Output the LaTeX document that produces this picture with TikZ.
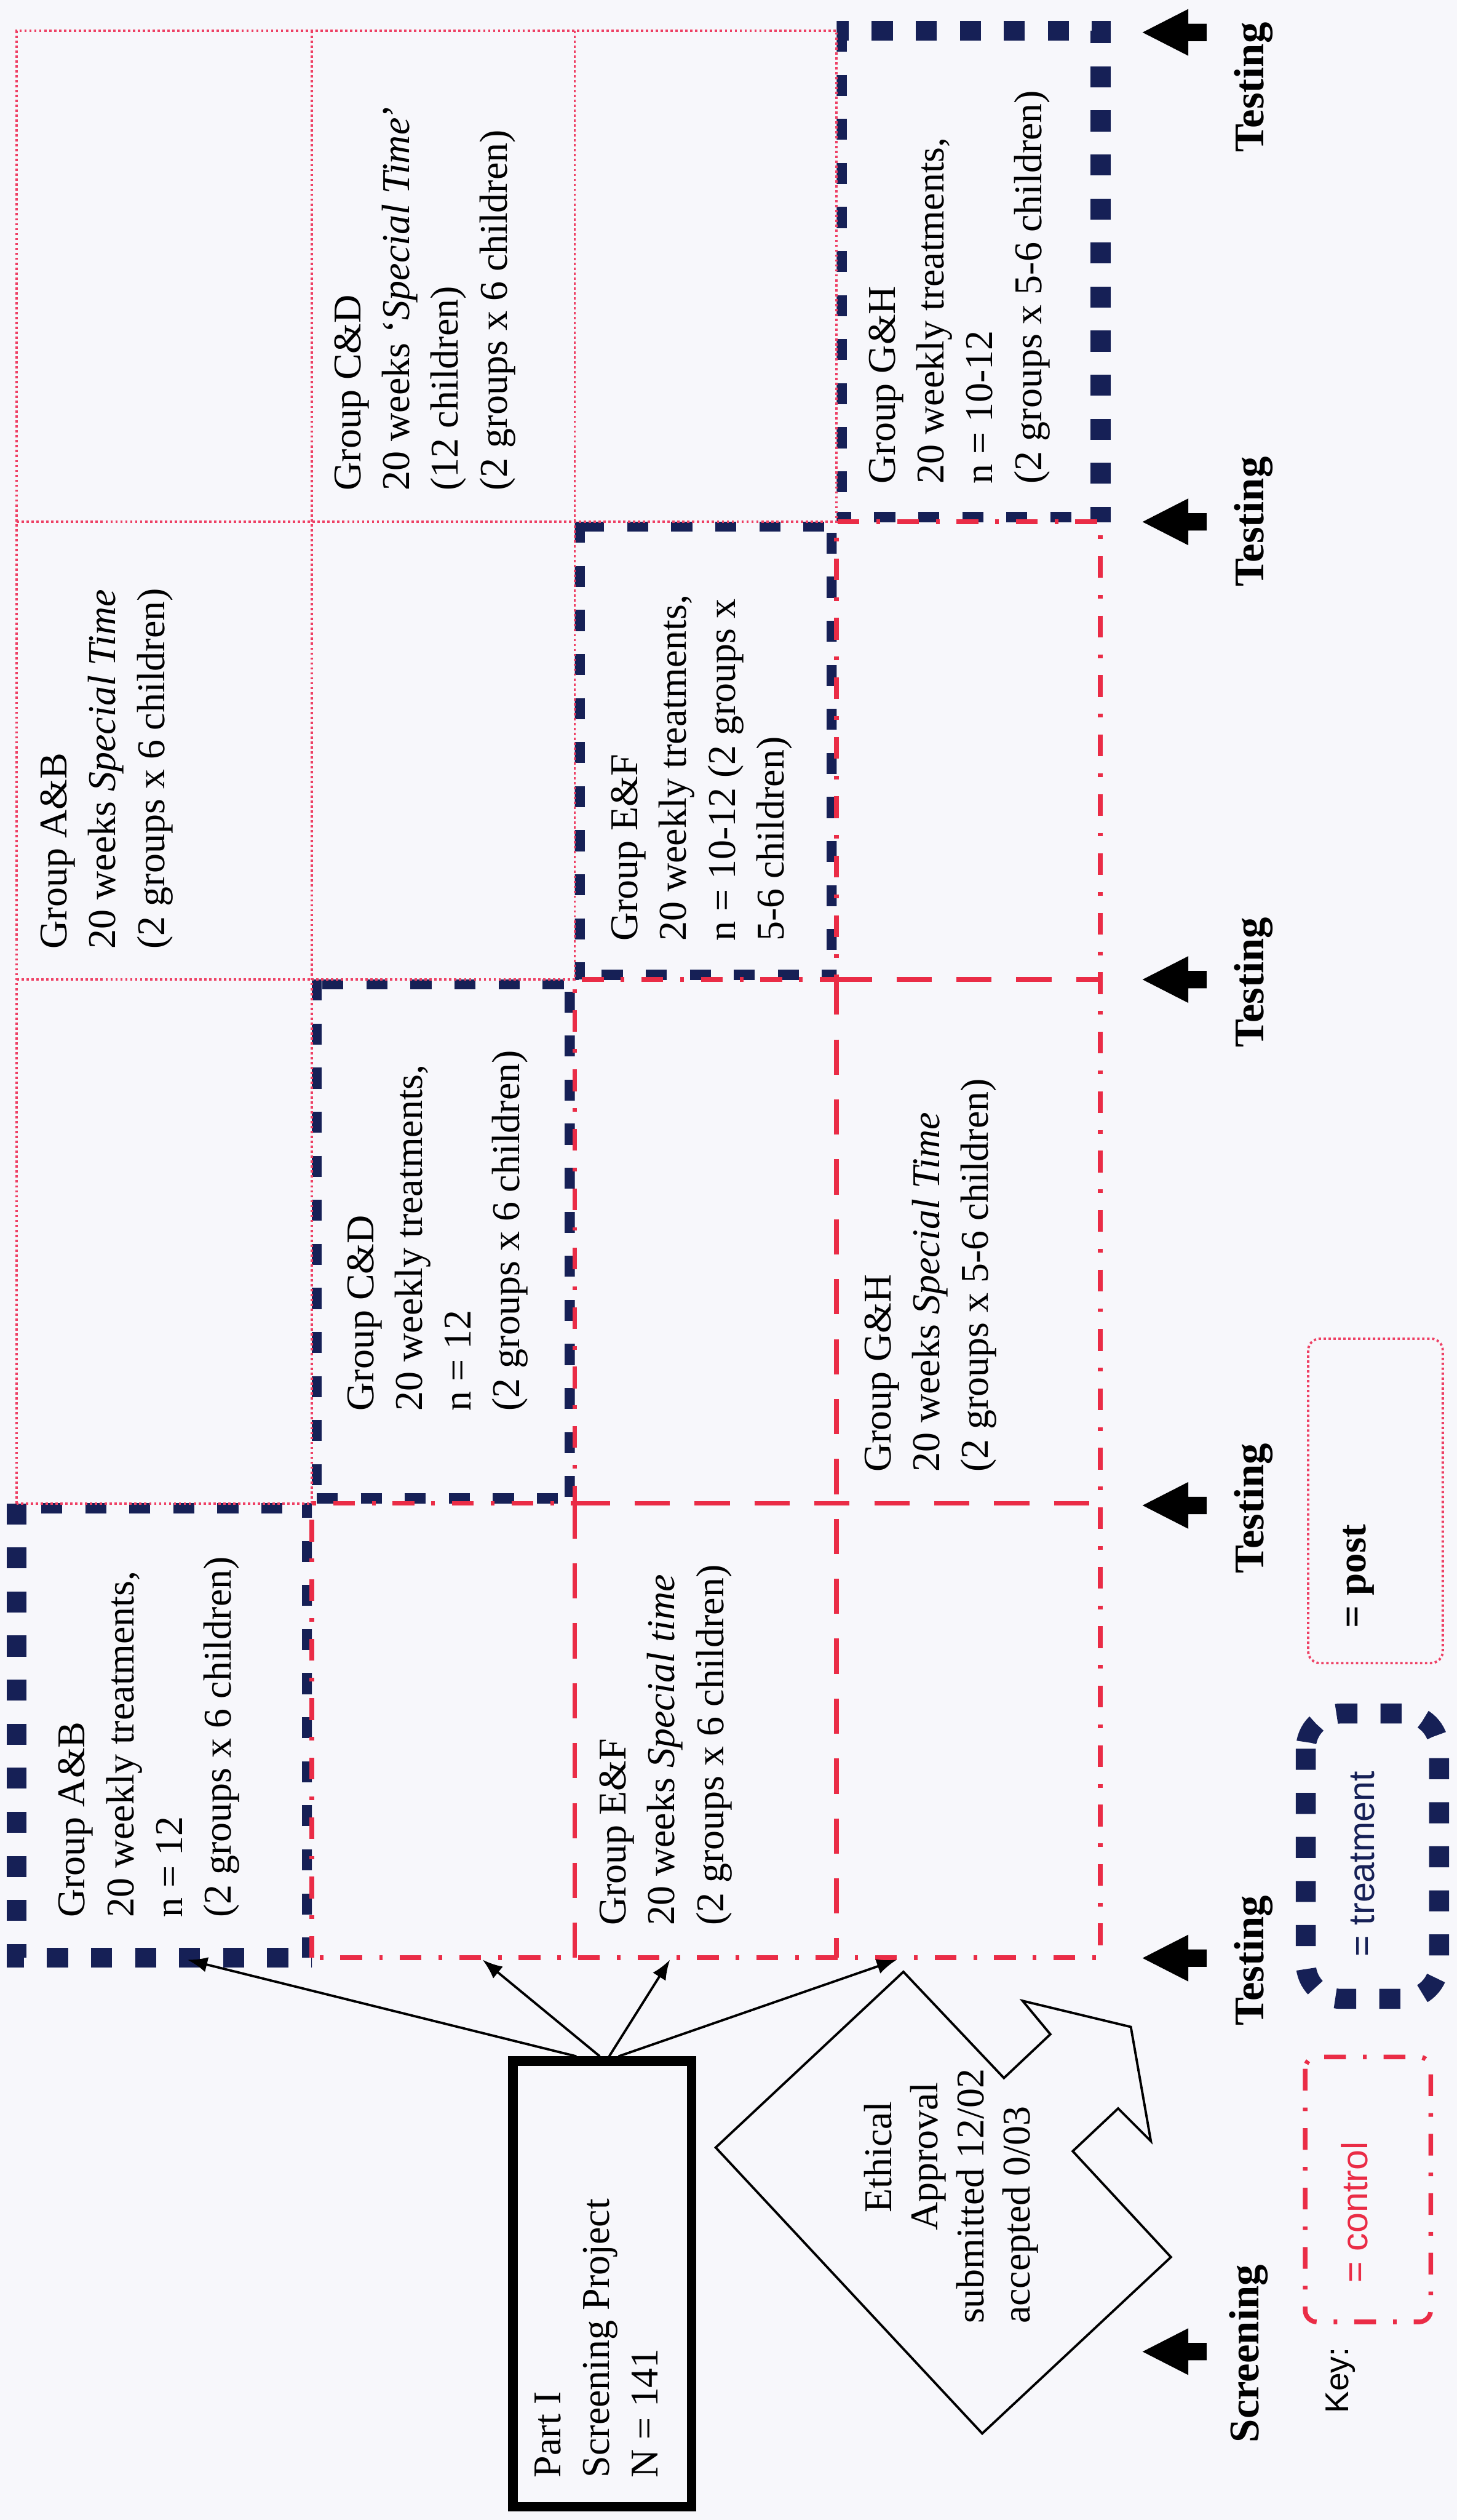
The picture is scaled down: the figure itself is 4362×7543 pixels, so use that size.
\documentclass[tikz,border=0pt]{standalone}
\usepackage{fontspec}
\setmainfont{Liberation Serif}
\setsansfont{Liberation Sans}
\usetikzlibrary{arrows.meta}
\definecolor{navy}{RGB}{22,32,86}
\definecolor{ctrlred}{RGB}{234,44,70}
\definecolor{postred}{RGB}{238,64,100}
\definecolor{paper}{RGB}{247,247,251}

\begin{document}
\begin{tikzpicture}[x=0.01cm, y=-0.01cm,
  treat/.style={draw=navy, line width=17pt, dash pattern=on 17.9pt off 19.6pt},
  ctrl/.style={draw=ctrlred, line width=4pt, dash pattern=on 18.5pt off 14.5pt on 3.1pt off 14.5pt},
  ctrlsep/.style={draw=ctrlred, line width=4pt, dash pattern=on 30pt off 21pt},
  post/.style={draw=postred, line width=2pt, dash pattern=on 2pt off 2.2pt},
  celltext/.style={rotate=90, anchor=north west, inner sep=0pt, align=left,
                   font=\fontsize{33.5}{41.5}\selectfont},
  phase/.style={rotate=90, anchor=north, inner sep=0pt,
                font=\bfseries\fontsize{36}{43}\selectfont},
  link/.style={draw, line width=2pt, -{Latex[length=17pt,width=13pt]}},
  keytext/.style={rotate=90, inner sep=0pt, font=\sffamily\fontsize{31}{37}\selectfont}
]
% grid lines: columns (groups) and phases
\def\Xa{50}\def\Xb{934}\def\Xc{1721}\def\Xd{2505}\def\Xe{3295}
\def\Ya{92}\def\Yb{1562}\def\Yc{2932}\def\Yd{4500}\def\Ye{5860}

\fill[paper] (0,0) rectangle (4362,7543);
\useasboundingbox (0,0) rectangle (4362,7543);

% ---- treatment blocks (thick navy dashes, inner half hidden by neighbours)
\begin{scope}
  \clip (\Xa-80,\Yd) rectangle (\Xb,\Ye+80);
  \draw[treat] (\Xa,\Yd) rectangle (\Xb,\Ye);
\end{scope}
\begin{scope}
  \clip (\Xb,\Yc) rectangle (\Xc,\Yd);
  \draw[treat] (\Xb,\Yc) rectangle (\Xc,\Yd);
\end{scope}
\begin{scope}
  \clip (\Xc,\Yb) rectangle (\Xd,\Yc);
  \draw[treat] (\Xc,\Yb) rectangle (\Xd,\Yc);
\end{scope}
\begin{scope}
  \clip (\Xd,\Ya-80) rectangle (\Xe+80,\Yb);
  \draw[treat] (\Xd,\Ya) rectangle (\Xe,\Yb);
\end{scope}

% ---- post-treatment cells (dotted)
\draw[post] (\Xa,\Yd) -- (\Xa,\Ya) -- (\Xd,\Ya) -- (\Xd,\Yb) -- (\Xc,\Yb)
            -- (\Xc,\Yc) -- (\Xb,\Yc) -- (\Xb,\Yd) -- cycle;
\draw[post] (\Xb,\Ya) -- (\Xb,\Yc);
\draw[post] (\Xc,\Ya) -- (\Xc,\Yb);
\draw[post] (\Xa,\Yb) -- (\Xc,\Yb);
\draw[post] (\Xa,\Yc) -- (\Xb,\Yc);

% ---- control cells (dash-dot outline, dashed separators)
\draw[ctrl] (\Xb,\Ye) -- (\Xb,\Yd) -- (\Xc,\Yd) -- (\Xc,\Yc) -- (\Xd,\Yc)
            -- (\Xd,\Yb) -- (\Xe,\Yb) -- (\Xe,\Ye) -- cycle;
\draw[ctrlsep] (\Xc,\Yd) -- (\Xc,\Ye);
\draw[ctrlsep] (\Xd,\Yc) -- (\Xd,\Ye);
\draw[ctrlsep] (\Xc,\Yd) -- (\Xe,\Yd);
\draw[ctrlsep] (\Xd,\Yc) -- (\Xe,\Yc);

% ---- cell texts
\node[celltext] (abT) at (175,5740)
  {Group A\&B\\20 weekly treatments,\\n = 12\\(2 groups x 6 children)};
\node[celltext] (abP) at (121,2841)
  {Group A\&B\\20 weeks \textit{Special Time}\\(2 groups x 6 children)};
\node[celltext] (cdT) at (1039,4224)
  {Group C\&D\\20 weekly treatments,\\n = 12\\(2 groups x 6 children)};
\node[celltext] (cdP) at (1001,1469)
  {Group C\&D\\20 weeks ‘\textit{Special Time}’\\(12 children)\\(2 groups x 6 children)};
\node[celltext] (efT) at (1830,2818)
  {Group E\&F\\20 weekly treatments,\\n = 10-12 (2 groups x\\5-6 children)};
\node[celltext] (efC) at (1795,5764)
  {Group E\&F\\20 weeks \textit{Special time}\\(2 groups x 6 children)};
\node[celltext] (ghC) at (2588,4407)
  {Group G\&H\\20 weeks \textit{Special Time}\\(2 groups x 5-6 children)};
\node[celltext] (ghT) at (2601,1449)
  {Group G\&H\\20 weekly treatments,\\n = 10-12\\(2 groups x 5-6 children)};

% ---- screening project box and its links
\node[draw, line width=8pt, minimum width=5.34cm, minimum height=13.33cm,
      inner sep=0pt] (scr) at (1803,6836) {};
\node[celltext] (scrtxt) at (1600,7417) {Part I\\Screening Project\\N = 141};

\coordinate (eAB) at (561,5866);
\coordinate (eCD) at (1445,5866);
\coordinate (eEF) at (2006,5866);
\coordinate (eGH) at (2685,5866);
\draw[link] ([xshift=-0.77cm]scr.north) -- (eAB);
\draw[link] ([xshift=-0.07cm]scr.north) -- (eCD);
\draw[link] ([xshift=0.21cm]scr.north) -- (eEF);
\draw[link] ([xshift=0.49cm]scr.north) -- (eGH);

% ---- ethical approval arrow shape
\draw[line width=2pt, line join=miter] (2705,5902) -- (3006,6220) -- (3145,6089) -- (3062,5989)
  -- (3386,6067) -- (3446,6409) -- (3348,6311) -- (3212,6439) -- (3506,6756)
  -- (2941,7284) -- (2143,6428) -- cycle;
\node[celltext, font=\fontsize{33.5}{39.3}\selectfont] (eth) at (2587,6956)
  {\hspace*{2.82em}Ethical\\\hspace*{2.36em}Approval\\submitted 12/02\\accepted 0/03};

% ---- phase markers
\foreach \yc in {97,1562,2932,4506,5861,7039}
  \fill (3421,\yc) -- (3558,\yc-70) -- (3558,\yc-26) -- (3613,\yc-26)
        -- (3613,\yc+26) -- (3558,\yc+26) -- (3558,\yc+70) -- cycle;
\node[phase] (ph1) at (3695,262) {Testing};
\node[phase] (ph2) at (3695,1562) {Testing};
\node[phase] (ph3) at (3695,2940) {Testing};
\node[phase] (ph4) at (3695,4515) {Testing};
\node[phase] (ph5) at (3695,5868) {Testing};
\node[phase] (ph0) at (3680,7045) {Screening};

% ---- key
\node[keytext, font=\sffamily\fontsize{28}{34}\selectfont] (key) at (4014,7125) {Key:};
\draw[ctrl, rounded corners=10pt] (3908,6157) rectangle (4284,6950);
\node[keytext, text=ctrlred] (kctrl) at (4056,6622) {= control};
\draw[treat, rounded corners=30pt] (3910,5129) rectangle (4309,5983);
\node[keytext, text=navy] (ktreat) at (4081,5579) {= treatment};
\draw[post, rounded corners=10pt] (3917,4007) rectangle (4320,4978);
\node[rotate=90, inner sep=0pt, font=\bfseries\fontsize{34}{40}\selectfont] (kpost)
  at (4069,4718) {= post};
\end{tikzpicture}
\end{document}
